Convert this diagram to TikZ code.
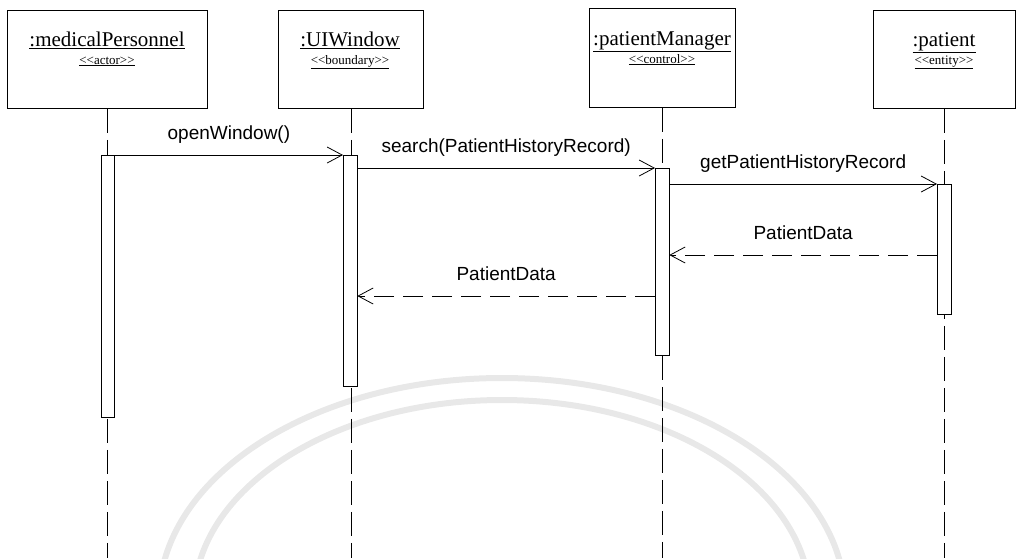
\documentclass[tikz,border=0pt]{standalone}
\usepackage{fontspec}
\setmainfont{Liberation Serif}
\newfontfamily\arialf{Liberation Sans}
\usetikzlibrary{arrows.meta,calc}
\begin{document}
\begin{tikzpicture}[x=1pt,y=-1pt,
  objbox/.style={draw, line width=0.8pt, fill=white, inner sep=0pt, anchor=north west},
  lifeline/.style={line width=0.8pt, dash pattern=on 24pt off 7pt},
  actbar/.style={draw, line width=0.8pt, fill=white, inner sep=0pt, anchor=north west, minimum width=13.5pt},
  callmsg/.style={line width=0.8pt, -{Straight Barb[length=15pt,width=16pt,line width=0.8pt]}},
  retmsg/.style={callmsg, dash pattern=on 20pt off 9pt},
  ttl/.style={anchor=base, font=\fontsize{21}{23}\selectfont, inner sep=0pt},
  ster/.style={anchor=base, font=\fontsize{13}{14}\selectfont, inner sep=0pt},
  msglbl/.style={anchor=base, font=\arialf\fontsize{19}{21}\selectfont, inner sep=0pt, yshift=16pt},
  wmark/.style={draw=gray!18, line width=6pt}
]
\useasboundingbox (0,0) rectangle (1016,558);
% faint watermark arcs
\begin{scope}
\clip (0,0) rectangle (1016,558);
\draw[wmark] (502,600) ellipse [x radius=343pt, y radius=222pt];
\draw[wmark] (502,600) ellipse [x radius=308pt, y radius=200pt];
\end{scope}
% object boxes
\node[objbox, minimum width=200pt, minimum height=98pt] (b1) at (7,10) {};
\node[objbox, minimum width=145pt, minimum height=98pt] (b2) at (278,10) {};
\node[objbox, minimum width=146pt, minimum height=99pt] (b3) at (589,8) {};
\node[objbox, minimum width=142pt, minimum height=98pt] (b4) at (873,10) {};
\node[ttl] (t1) at (107,46) {\underline{:medicalPersonnel}};
\node[ttl] (t2) at (350,46) {\underline{:UIWindow}};
\node[ttl] (t3) at (662,45) {\underline{:patientManager}};
\node[ttl] (t4) at (944,46) {\underline{:patient}};
\node[ster] (s1) at (107,64) {\underline{<\kern0pt<actor>\kern0pt>}};
\node[ster] (s2) at (350,64) {\underline{<\kern0pt<boundary>\kern0pt>}};
\node[ster] (s3) at (662,63) {\underline{<\kern0pt<control>\kern0pt>}};
\node[ster] (s4) at (944,64) {\underline{<\kern0pt<entity>\kern0pt>}};
% lifelines
\coordinate (bot) at (0,558);
\draw[lifeline] (b1.south) -- (b1.south |- bot);
\draw[lifeline] (b2.south) -- (b2.south |- bot);
\draw[lifeline] (b3.south) -- (b3.south |- bot);
\draw[lifeline] (b4.south) -- (b4.south |- bot);
% activation bars
\node[actbar, minimum height=262pt] (a1) at (100.5,155) {};
\node[actbar, minimum height=231pt] (a2) at (343,155) {};
\node[actbar, minimum height=187pt] (a3) at (655,168) {};
\node[actbar, minimum height=130pt] (a4) at (937,184) {};
% messages
\coordinate (y4) at (0,255);
\coordinate (y5) at (0,296);
\draw[callmsg] (a1.north east) -- (a2.north west) node[msglbl, midway] {openWindow()};
\draw[callmsg] (a2.east |- a3.north) -- (a3.north west) node[msglbl, midway] {search(PatientHistoryRecord)};
\draw[callmsg] (a3.east |- a4.north) -- (a4.north west) node[msglbl, midway] {getPatientHistoryRecord};
\draw[retmsg] (a4.west |- y4) -- (a3.east |- y4) node[msglbl, midway] {PatientData};
\draw[retmsg] (a3.west |- y5) -- (a2.east |- y5) node[msglbl, midway] {PatientData};
\end{tikzpicture}
\end{document}
